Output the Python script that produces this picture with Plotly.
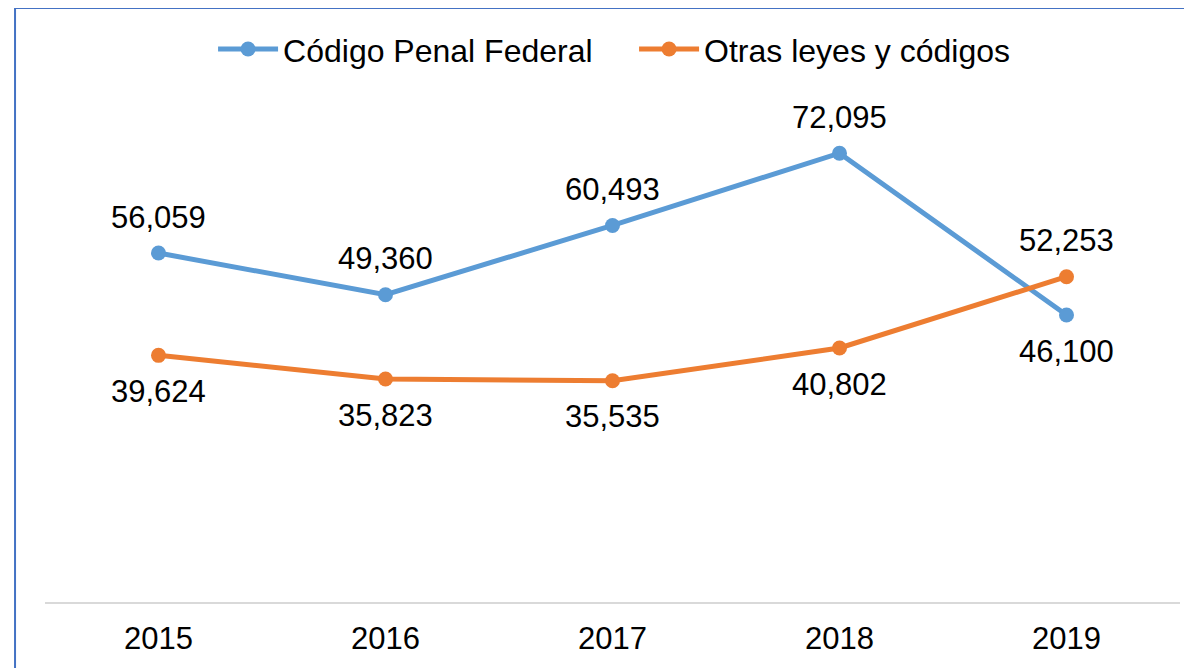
import plotly.graph_objects as go

years = ["2015", "2016", "2017", "2018", "2019"]
codigo_penal = [56059, 49360, 60493, 72095, 46100]
otras_leyes = [39624, 35823, 35535, 40802, 52253]
# label placement: +1 above, -1 below
codigo_pos = [1, 1, 1, 1, -1]
otras_pos = [-1, -1, -1, -1, 1]

BLUE = "#5B9BD5"
ORANGE = "#ED7D31"
FONT = "Liberation Sans, Arial, sans-serif"

fig = go.Figure()
fig.add_trace(go.Scatter(x=years, y=codigo_penal, mode="lines+markers", name="Código Penal Federal",
                         line=dict(color=BLUE, width=5), marker=dict(size=15, color=BLUE)))
fig.add_trace(go.Scatter(x=years, y=otras_leyes, mode="lines+markers", name="Otras leyes y códigos",
                         line=dict(color=ORANGE, width=5), marker=dict(size=15, color=ORANGE)))

annotations = []
for vals, pos in ((codigo_penal, codigo_pos), (otras_leyes, otras_pos)):
    for i, (v, p) in enumerate(zip(vals, pos)):
        annotations.append(dict(x=i, y=v, xref="x", yref="y", text=f"{v:,}", showarrow=False,
                                yshift=36 * p, font=dict(size=31, color="black", family=FONT)))

fig.update_layout(
    width=1192, height=668,
    margin=dict(l=37, r=20, t=96, b=74),
    paper_bgcolor="white", plot_bgcolor="white",
    font=dict(family=FONT, size=31, color="black"),
    showlegend=True,
    legend=dict(orientation="h", x=0.519, xanchor="center", y=1.11, yanchor="middle",
                font=dict(size=32, family=FONT, color="black"), itemwidth=60,
                entrywidth=346, entrywidthmode="pixels"),
    xaxis=dict(type="category", showgrid=False, showline=True, linecolor="#D9D9D9", linewidth=2,
               ticks="", tickfont=dict(size=31, color="black", family=FONT), range=[-0.5, 4.5],
               ticklabelstandoff=8),
    yaxis=dict(range=[0, 80000], visible=False, showgrid=False, zeroline=False),
    annotations=annotations,
    shapes=[dict(type="rect", xref="paper", yref="paper", x0=-0.0264, y0=-0.3, x1=1.2, y1=1.1928,
                 line=dict(color="#4472C4", width=2), fillcolor="rgba(0,0,0,0)", layer="above")],
)

fig.write_html("out.html")
